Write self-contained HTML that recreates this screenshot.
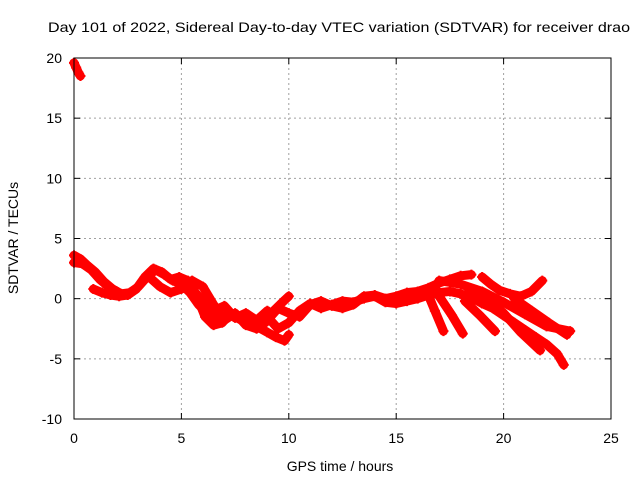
<!DOCTYPE html>
<html><head><meta charset="utf-8"><style>
body{margin:0;background:#fff}
svg text{font-family:"Liberation Sans",sans-serif;font-size:14px;fill:#000}
</style></head><body>
<svg id="chart" width="640" height="480" viewBox="0 0 640 480" xmlns="http://www.w3.org/2000/svg">
<rect width="640" height="480" fill="#fff"/>
<text x="339" y="32" text-anchor="middle" textLength="582" lengthAdjust="spacingAndGlyphs">Day 101 of 2022, Sidereal Day-to-day VTEC variation (SDTVAR) for receiver drao</text>
<g id="grid"></g>
<g id="marks"></g>
<rect x="74" y="58" width="537" height="361" fill="none" stroke="#000" stroke-width="1"/>
<g id="ticks"></g>
<text x="340" y="471" text-anchor="middle">GPS time / hours</text>
<text x="0" y="0" transform="translate(18,238) rotate(-90)" text-anchor="middle">SDTVAR / TECUs</text>
</svg>
<script>
const xTicks=[0,5,10,15,20,25];
const yTicks=[-10,-5,0,5,10,15,20];
const t0=[0,0.1,0.2,0.3];
const v0=[19.6,19.2,18.8,18.5];
const t1=[0,0.3,0.6,1,1.4,1.8,2.2,2.6,3,3.4,3.8,4.2,4.6,5,5.4,5.8,6.2,6.6,7,7.4,7.8,8.2,8.6,9,9.4,9.8,10];
const v1=[3.6,3.3,2.8,2.2,1.4,0.8,0.4,0.5,1.0,1.8,2.4,2.0,1.5,1.2,0.5,-0.5,-1.2,-1.6,-1.5,-1.4,-1.8,-2.2,-2.4,-2.8,-3.2,-3.5,-3.0];
const t1b=[0,0.4,0.8,1.2,1.6,2.0];
const v1b=[3.0,2.9,2.4,1.6,1.0,0.6];
const t2=[0.9,1.3,1.7,2.1,2.5,2.9,3.3,3.7,4.1,4.5,4.9,5.3,5.7,6.1,6.5,6.9,7.3,7.7,8.1,8.5,8.9,9.3,9.7,10];
const v2=[0.8,0.5,0.3,0.2,0.3,0.8,1.8,2.5,2.2,1.6,1.8,1.5,0.3,-1.5,-2.2,-2.0,-1.2,-1.5,-2.0,-2.4,-2.0,-1.0,-0.3,0.2];
const t3=[3.5,4,4.5,5,5.5,6,6.5,7,7.5,8,8.5,9,9.5,10,10.5,11,11.5,12,12.5,13,13.5,14,14.5,15,15.5,16,16.5,17,17.5,18,18.5];
const v3=[1.8,1.0,0.5,0.8,1.5,1.0,-0.5,-1.8,-1.2,-2.2,-2.5,-1.8,-0.8,-1.2,-1.5,-0.5,-0.2,-0.6,-0.8,-0.5,0.2,0.3,0.0,0.2,0.5,0.6,0.9,1.3,1.6,1.9,2.0];
const t4=[9,9.5,10,10.5,11,11.5,12,12.5,13,13.5,14,14.5,15,15.5,16,16.5,17,17.5,18,18.5,19,19.5,20,20.5,21,21.5,22,22.5,22.8];
const v4=[-1.5,-2.5,-2.0,-1.0,-0.4,-0.8,-0.5,-0.2,-0.3,0.0,0.2,-0.3,-0.4,-0.2,0.0,0.3,0.5,0.6,0.4,0.1,-0.4,-0.8,-1.4,-2.0,-2.6,-3.2,-3.8,-4.6,-5.5];
const t5=[16.4,16.8,17.2];
const v5=[0.7,-1.0,-2.7];
const t6=[17.0,17.6,18.1];
const v6=[0.2,-1.4,-2.9];
const t7=[18.2,18.9,19.6];
const v7=[-0.2,-1.4,-2.7];
const t8=[18.4,19.2,20,20.8,21.7];
const v8=[0.7,0.0,-1.2,-2.8,-4.3];
const t9=[17,18,19,20,21,22,23.1];
const v9=[1.5,1.2,0.6,-0.3,-1.3,-2.3,-2.7];
const t10=[19.0,19.4,19.8,20.3,20.8,21.3,21.8];
const v10=[1.8,1.2,0.7,0.4,0.2,0.6,1.5];
const t11=[20.5,21.3,22.1,22.95];
const v11=[0.0,-1.0,-2.0,-3.0];
const t12=[5.5,6,6.5,7,7.5,8,8.5,9];
const v12=[0.8,-0.2,-1.0,-0.6,-1.6,-1.2,-1.8,-1.0];
const seriesT=[t0,t1,t1b,t2,t3,t4,t5,t6,t7,t8,t9,t10,t11,t12];
const seriesV=[v0,v1,v1b,v2,v3,v4,v5,v6,v7,v8,v9,v10,v11,v12];

const X0=74,X1=611,Y0=419,Y1=58;
const xs=t=>X0+(t-0)/25*(X1-X0);
const ys=v=>Y0-(v+10)/30*(Y0-Y1);
const NS="http://www.w3.org/2000/svg";
const grid=document.getElementById('grid'),ticks=document.getElementById('ticks'),marks=document.getElementById('marks');
function mk(tag,attrs,parent){const e=document.createElementNS(NS,tag);for(const k in attrs)e.setAttribute(k,attrs[k]);parent.appendChild(e);return e;}
xTicks.forEach(t=>{
  const x=xs(t);
  if(t>0&&t<25){const g=mk('line',{x1:x,x2:x,y1:Y1,y2:Y0,stroke:'#a0a0a0','stroke-dasharray':'2,3'},grid);
  
  }
  mk('line',{x1:x,x2:x,y1:Y0,y2:Y0-6,stroke:'#000'},ticks);
  mk('line',{x1:x,x2:x,y1:Y1,y2:Y1+6,stroke:'#000'},ticks);
  const l=mk('text',{x:x,y:443,'text-anchor':'middle'},ticks);l.textContent=t;
  
  
});
yTicks.forEach(v=>{
  const y=ys(v);
  if(v>-10&&v<20){const g=mk('line',{x1:X0,x2:X1,y1:y,y2:y,stroke:'#a0a0a0','stroke-dasharray':'2,3'},grid);
  
  }
  mk('line',{x1:X0,x2:X0+6,y1:y,y2:y,stroke:'#000'},ticks);
  mk('line',{x1:X1,x2:X1-6,y1:y,y2:y,stroke:'#000'},ticks);
  const l=mk('text',{x:62,y:y+5,'text-anchor':'end'},ticks);l.textContent=v;
  
  
});
seriesT.forEach((ts,i)=>{
  const vs=seriesV[i];
  const pts=ts.map((t,j)=>xs(t)+','+ys(vs[j])).join(' ');
  const pl=mk('polyline',{points:pts,fill:'none',stroke:'#f00','stroke-width':9,'stroke-linejoin':'round','stroke-linecap':'round'},marks);
  
  
  ts.forEach((t,j)=>{
    const x=xs(t),y=ys(vs[j]);
    const p=mk('path',{d:`M${x-5},${y}H${x+5}M${x},${y-5}V${y+5}`,stroke:'#f00','stroke-width':2},marks);
    
    
  });
});
</script>
</body></html>
